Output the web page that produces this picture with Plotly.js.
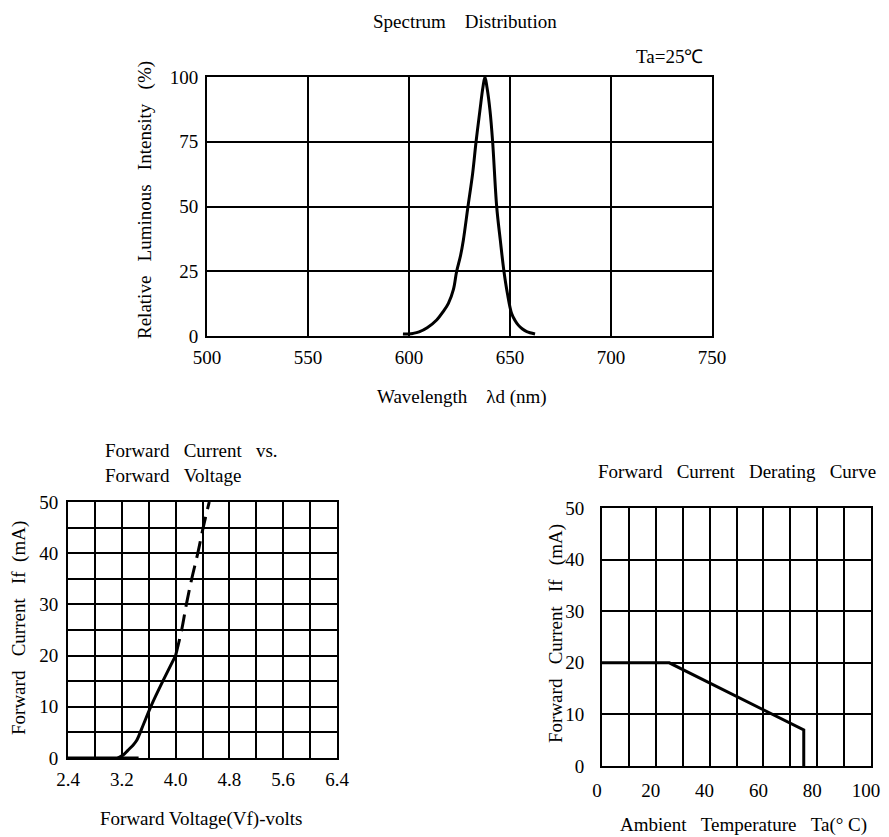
<!DOCTYPE html>
<html>
<head>
<meta charset="utf-8">
<script src="https://cdn.plot.ly/plotly-3.0.1.min.js"></script>
<style>html,body{margin:0;padding:0;background:#fff;}#chart{width:889px;height:837px;}</style>
</head>
<body>
<div id="chart"></div>
<script>
// ---- Spectrum distribution ----
const specWl  = [597, 600, 602, 605, 609, 613.7, 617, 619.5, 622, 623.6, 625.5, 626.9, 629.2, 631.5, 633.2, 635.1, 636.6, 637.6, 638.6, 640.1, 641.4, 643.4, 645.2, 647, 648.7, 650.8, 652.5, 654.1, 656, 658.3, 662.4];
const specRel = [0.8, 0.8, 1, 1.6, 3.2, 6.2, 9.5, 12.6, 18, 25, 31, 37, 50, 62.7, 75, 87, 96, 100, 96, 87, 75, 50, 37, 25, 16.5, 8.7, 6, 4.2, 2.8, 1.7, 0.8];

// ---- Forward current vs forward voltage ----
const vfFlatV = [2.4, 3.45];
const vfFlatI = [0, 0];
const vfV = [3.14, 3.22, 3.29, 3.36, 3.42, 3.52, 3.63, 3.81, 4.0];
const vfI = [0, 0.6, 1.5, 2.4, 3.4, 6.5, 10, 15, 20];
const vfDashV = [4.0, 4.09, 4.16, 4.24, 4.33, 4.41, 4.5];
const vfDashI = [20, 25, 30, 35, 40, 45, 50];

// ---- Derating curve ----
const deratT = [0, 25, 75, 75];
const deratI = [20, 20, 7, 0];

const W = 889, H = 837;
const px = x => x / W;
const py = y => 1 - y / H;
const FONT = 'Liberation Serif, Times New Roman, serif';
const nb = n => '\u00a0'.repeat(n);

const axBase = {
  showgrid: true, gridcolor: '#000', gridwidth: 2,
  showline: true, mirror: true, linecolor: '#000', linewidth: 2,
  ticks: '', zeroline: false, fixedrange: true,
  tickfont: {family: FONT, size: 19, color: '#000'}
};

const traces = [
  {x: specWl, y: specRel, xaxis: 'x', yaxis: 'y', mode: 'lines',
   line: {color: '#000', width: 3, shape: 'spline', smoothing: 1}},
  {x: vfFlatV, y: vfFlatI, xaxis: 'x2', yaxis: 'y2', mode: 'lines',
   line: {color: '#000', width: 3}},
  {x: vfV, y: vfI, xaxis: 'x2', yaxis: 'y2', mode: 'lines',
   line: {color: '#000', width: 3, shape: 'spline', smoothing: 1}},
  {x: vfDashV, y: vfDashI, xaxis: 'x2', yaxis: 'y2', mode: 'lines',
   line: {color: '#000', width: 3, dash: '17px,8px', shape: 'spline', smoothing: 1}},
  {x: deratT, y: deratI, xaxis: 'x3', yaxis: 'y3', mode: 'lines',
   line: {color: '#000', width: 3}}
];

function ann(text, x, y, opts) {
  return Object.assign({
    text: text, x: px(x), y: py(y), xref: 'paper', yref: 'paper',
    showarrow: false, xanchor: 'center', yanchor: 'middle',
    font: {family: FONT, size: 19, color: '#000'}
  }, opts || {});
}

const layout = {
  width: W, height: H,
  margin: {l: 0, r: 0, t: 0, b: 0},
  paper_bgcolor: '#fff', plot_bgcolor: '#fff',
  showlegend: false,
  xaxis: Object.assign({}, axBase, {domain: [px(207), px(712)], range: [500, 750], dtick: 50, tick0: 500, anchor: 'y', ticklabelstandoff: 3}),
  yaxis: Object.assign({}, axBase, {domain: [py(336), py(77)], range: [0, 100], dtick: 25, tick0: 0, anchor: 'x', ticklabelstandoff: 3}),
  xaxis2: Object.assign({}, axBase, {domain: [px(68), px(337)], range: [2.4, 6.4], dtick: 0.8, tick0: 2.4, tickformat: '.1f', anchor: 'y2', ticklabelstandoff: 3,
    minor: {dtick: 0.4, tick0: 2.4, showgrid: true, gridcolor: '#000', gridwidth: 2, ticks: ''}}),
  yaxis2: Object.assign({}, axBase, {domain: [py(758), py(502)], range: [0, 50], dtick: 10, tick0: 0, anchor: 'x2', ticklabelstandoff: 4,
    minor: {dtick: 5, tick0: 0, showgrid: true, gridcolor: '#000', gridwidth: 2, ticks: ''}}),
  xaxis3: Object.assign({}, axBase, {domain: [px(602), px(871)], range: [0, 100], dtick: 20, tick0: 0, anchor: 'y3', ticklabelstandoff: 6, ticklabelshift: -5,
    minor: {dtick: 10, tick0: 0, showgrid: true, gridcolor: '#000', gridwidth: 2, ticks: ''}}),
  yaxis3: Object.assign({}, axBase, {domain: [py(766), py(508)], range: [0, 50], dtick: 10, tick0: 0, anchor: 'x3', ticklabelstandoff: 12}),
  annotations: [
    ann('Spectrum' + nb(4) + 'Distribution', 465, 22),
    ann('Ta=25\u2103', 705, 57, {xanchor: 'right'}),
    ann('Relative' + nb(3) + 'Luminous' + nb(3) + 'Intensity' + nb(3) + '(%)', 145, 200, {textangle: -90}),
    ann('Wavelength' + nb(4) + '\u03bbd (nm)', 462, 397),
    ann('Forward' + nb(3) + 'Current' + nb(3) + 'vs.<br>Forward' + nb(3) + 'Voltage', 103, 463, {xanchor: 'left', align: 'left'}),
    ann('Forward' + nb(3) + 'Current' + nb(3) + 'If' + nb(2) + '(mA)', 19, 628, {textangle: -90}),
    ann('Forward Voltage(Vf)-volts', 201, 819),
    ann('Forward' + nb(3) + 'Current' + nb(3) + 'Derating' + nb(3) + 'Curve', 737, 471),
    ann('Forward' + nb(3) + 'Current' + nb(3) + 'If' + nb(3) + '(mA)', 556, 634, {textangle: -90}),
    ann('Ambient' + nb(3) + 'Temperature' + nb(3) + 'Ta(\u00b0 C)', 743, 825)
  ]
};

Plotly.newPlot('chart', traces, layout, {staticPlot: true, displayModeBar: false});
</script>
</body>
</html>
